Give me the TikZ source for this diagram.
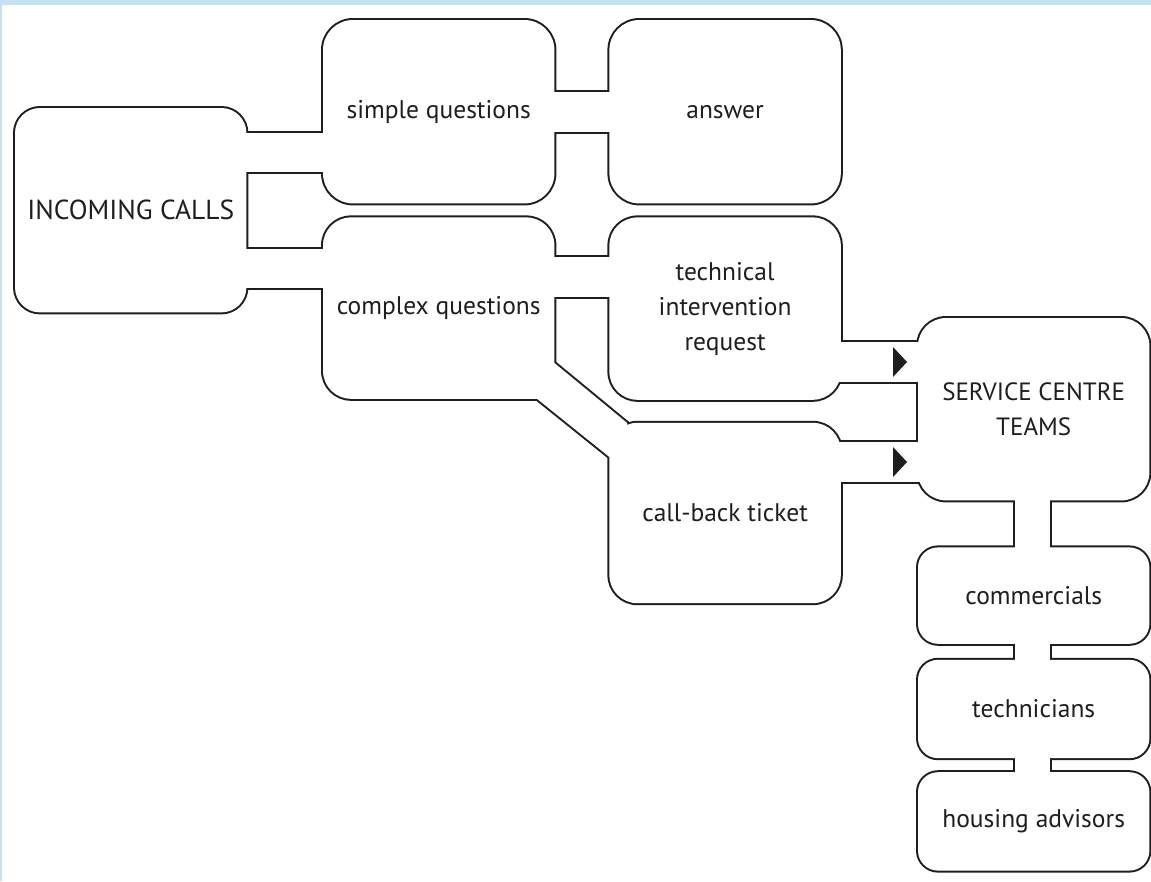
\documentclass[tikz,border=0pt]{standalone}
\usepackage{fontspec}
\setmainfont{PT Sans}
\usetikzlibrary{positioning, calc, backgrounds}

\definecolor{ink}{RGB}{30,30,30}
\definecolor{frameblue}{RGB}{201,225,238}

% channel between two boxes, side by side (y range) or stacked (x range)
\newcommand{\hchan}[4]{($(#1.east |- 0,#3)+(-6,0)$) rectangle ($(#2.west |- 0,#4)+(6,0)$)}
\newcommand{\vchan}[4]{($(#1.south -| #3,0)+(0,-6)$) rectangle ($(#2.north -| #4,0)+(0,6)$)}

% all boxes and channels, once with a wide dark stroke, once filled white
\newcommand{\flowshapes}[1]{%
  \foreach \b/\rad in {calls/25, simple/30, answer/30, complex/28, tech/28, ticket/28, centre/28, comm/20, techn/20, housing/20}
    {\path[#1, rounded corners=\rad pt] (\b.north west) rectangle (\b.south east);}
  \path[#1] \hchan{calls}{simple}{133}{172};
  \path[#1] \hchan{simple}{answer}{92}{132};
  \path[#1] \hchan{calls}{complex}{249}{288};
  \path[#1] \hchan{complex}{tech}{257}{297};
  \path[#1] \hchan{tech}{centre}{342}{382};
  \path[#1] \hchan{ticket}{centre}{442}{482};
  \path[#1] \vchan{centre}{comm}{1015}{1050};
  \path[#1] \vchan{comm}{techn}{1015}{1050};
  \path[#1] \vchan{techn}{housing}{1015}{1050};
  \path[#1] (complex.east |- 0,363) -- (ticket.north -| 627,0) -- (627,457)
    -- (ticket.west |- 0,457) -- (complex.south -| 537,0) -- (complex.south -| 527,0)
    -- (527,363) -- cycle;
}

\begin{document}
\begin{tikzpicture}[x=1pt, y=-1pt,
    node distance=14pt,
    box/.style={rectangle, minimum width=231pt, inner sep=0pt, align=center, text=ink, font=\fontsize{25.5}{35}\selectfont},
    capsbox/.style={box, font=\fontsize{25}{35}\selectfont},
    halo/.style={draw=ink, line width=4pt},
    blank/.style={fill=white},
    tipmark/.style={fill=ink}
]
\useasboundingbox (0,0) rectangle (1151,881);

\node[capsbox, font=\fontsize{27.5}{35}\selectfont, minimum height=204pt, anchor=north west] (calls) at (15,108) {INCOMING CALLS};
\node[box, minimum height=183pt, anchor=north west] (simple) at (323,20) {simple questions};
\node[box, minimum height=183pt, right=55pt of simple] (answer) {answer};
\node[box, minimum height=181pt, below=of simple] (complex) {complex questions};
\node[box, minimum height=182pt, below=of answer] (tech) {technical\\intervention\\request};
\node[box, minimum height=180pt, below=23pt of tech] (ticket) {call-back ticket};

\node[capsbox, minimum height=182pt, anchor=north west] (centre) at (918,318) {SERVICE CENTRE\\TEAMS};
\node[box, minimum height=96pt, below=47pt of centre] (comm) {commercials};
\node[box, minimum height=98pt, below=16pt of comm] (techn) {technicians};
\node[box, minimum height=98pt, below=of techn] (housing) {housing advisors};

\begin{scope}[on background layer]
    \fill[white] (0,0) rectangle (1151,881);
    \fill[frameblue] (0,0) rectangle (1151,5);
    \fill[frameblue] (0,0) rectangle (2,881);
    \flowshapes{halo}
    \flowshapes{blank}
\end{scope}

% arrowheads into the service centre
\coordinate (inA) at ($(centre.west |- 0,362)+(-11,0)$);
\coordinate (inB) at ($(centre.west |- 0,462)+(-11,0)$);
\fill[tipmark] (inA) -- ++(-14,-15) -- ++(0,30) -- cycle;
\fill[tipmark] (inB) -- ++(-14,-15) -- ++(0,30) -- cycle;

\end{tikzpicture}
\end{document}
